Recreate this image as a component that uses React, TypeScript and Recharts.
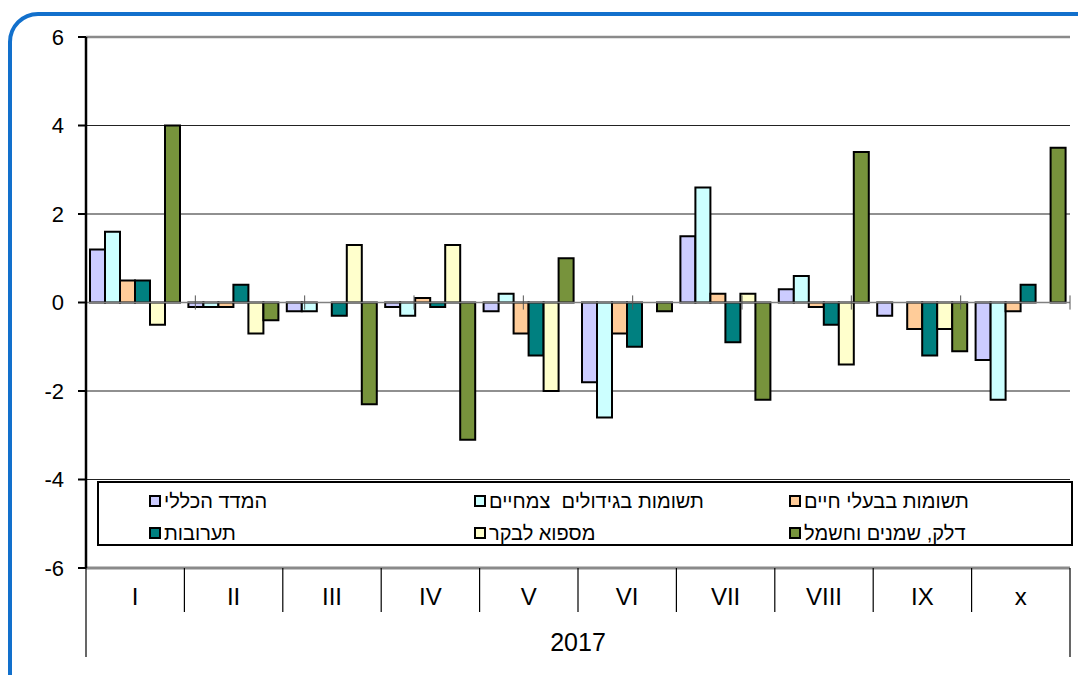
import React from 'react';
import { BarChart, Bar, XAxis, YAxis, CartesianGrid, ReferenceLine, Legend } from 'recharts';

const categories = ['I', 'II', 'III', 'IV', 'V', 'VI', 'VII', 'VIII', 'IX', 'x'];
const generalIndex = [1.2, -0.1, -0.2, -0.1, -0.2, -1.8, 1.5, 0.3, -0.3, -1.3];
const plantInputs = [1.6, -0.1, -0.2, -0.3, 0.2, -2.6, 2.6, 0.6, 0, -2.2];
const animalInputs = [0.5, -0.1, 0, 0.1, -0.7, -0.7, 0.2, -0.1, -0.6, -0.2];
const mixedFeed = [0.5, 0.4, -0.3, -0.1, -1.2, -1.0, -0.9, -0.5, -1.2, 0.4];
const cattleFodder = [-0.5, -0.7, 1.3, 1.3, -2.0, 0, 0.2, -1.4, -0.6, 0];
const fuelPower = [4.0, -0.4, -2.3, -3.1, 1.0, -0.2, -2.2, 3.4, -1.1, 3.5];
const yTicks = [-6, -4, -2, 0, 2, 4, 6];
const yearLabel = '2017';
const boundaries = [1, 2, 3, 4, 5, 6, 7, 8, 9];

const seriesDefs = [
  { key: 'general', name: 'המדד הכללי', color: '#CCCCFF', values: generalIndex },
  { key: 'plants', name: 'תשומות בגידולים  צמחיים', color: '#CCFFFF', values: plantInputs },
  { key: 'animals', name: 'תשומות בבעלי חיים', color: '#FFCC99', values: animalInputs },
  { key: 'feed', name: 'תערובות', color: '#008080', values: mixedFeed },
  { key: 'fodder', name: 'מספוא לבקר', color: '#FFFFCC', values: cattleFodder },
  { key: 'fuel', name: 'דלק, שמנים וחשמל', color: '#77933C', values: fuelPower },
];

const data = categories.map((c, i) => {
  const row: Record<string, string | number> = { cat: c };
  seriesDefs.forEach((s) => {
    row[s.key] = s.values[i];
  });
  return row;
});

const FONT = '"Liberation Sans", Arial, sans-serif';

const XTick = (props: any) => {
  const { x, y, payload } = props;
  const half = payload && typeof payload.offset === 'number' && payload.offset > 0 ? payload.offset : 49.2;
  const idx = categories.indexOf(payload?.value);
  const first = idx === 0;
  const last = idx === categories.length - 1;
  return (
    <g>
      <line x1={x - half} y1={y} x2={x - half} y2={y + (first ? 89 : 44)} stroke="#000" strokeWidth={1.2} />
      {last && <line x1={x + half} y1={y} x2={x + half} y2={y + 89} stroke="#000" strokeWidth={1.2} />}
      <text x={x} y={y + 37} textAnchor="middle" fontSize={24} fontFamily={FONT} fill="#000">
        {payload?.value}
      </text>
    </g>
  );
};

const LegendBox = () => {
  const cols = [50, 375, 690];
  const rows = [18, 50];
  return (
    <div
      style={{
        position: 'relative',
        width: 976,
        height: 65,
        border: '2.5px solid #000',
        boxSizing: 'border-box',
        background: '#fff',
        fontFamily: FONT,
      }}
    >
      {seriesDefs.map((s, i) => (
        <div
          key={s.key}
          style={{
            position: 'absolute',
            left: cols[i % 3],
            top: rows[Math.floor(i / 3)] - 12,
            height: 24,
            display: 'flex',
            alignItems: 'center',
            whiteSpace: 'pre',
          }}
        >
          <span
            style={{
              display: 'inline-block',
              width: 8,
              height: 8,
              border: '2px solid #000',
              background: s.color,
              marginRight: 3,
            }}
          />
          <span style={{ fontSize: 20, color: '#000', direction: 'rtl', unicodeBidi: 'embed' }}>{s.name}</span>
        </div>
      ))}
    </div>
  );
};

export default function App() {
  return (
    <div style={{ position: 'absolute', left: 0, top: 0, width: 1078, height: 675, overflow: 'hidden', background: '#fff' }}>
      <div
        style={{
          position: 'absolute',
          left: 8,
          top: 12,
          width: 1100,
          height: 700,
          border: '4px solid #1270CC',
          borderRadius: 30,
          boxSizing: 'border-box',
        }}
      />
      <div style={{ position: 'absolute', left: 0, top: 0 }}>
        <BarChart
          width={1078}
          height={675}
          data={data}
          margin={{ top: 37, right: 8, bottom: 7, left: 6 }}
          barSize={15}
          barGap={0}
        >
          <CartesianGrid horizontal vertical={false} stroke="#222" strokeWidth={1.2} />
          <XAxis
            dataKey="cat"
            height={100}
            tickLine={false}
            tickSize={0}
            tickMargin={0}
            interval={0}
            tick={<XTick />}
            axisLine={{ stroke: '#8a8a8a', strokeWidth: 3 }}
            label={{ value: yearLabel, position: 'insideBottom', offset: 17, fontSize: 25, fontFamily: FONT, fill: '#000' }}
          />
          <XAxis xAxisId="num" type="number" domain={[0, 10]} hide />
          <YAxis
            width={80}
            domain={[-6, 6]}
            ticks={yTicks}
            interval={0}
            tickSize={8}
            tickMargin={14}
            axisLine={{ stroke: '#000', strokeWidth: 2.5 }}
            tickLine={{ stroke: '#000', strokeWidth: 2 }}
            tick={{ fontSize: 22, fontFamily: FONT, fill: '#000' }}
          />
          <ReferenceLine y={6} stroke="#8a8a8a" strokeWidth={2.5} />
          <ReferenceLine y={0} stroke="#808080" strokeWidth={1.5} />
          {boundaries.map((b) => (
            <ReferenceLine
              key={b}
              xAxisId="num"
              segment={[
                { x: b, y: -0.16 },
                { x: b, y: 0.16 },
              ]}
              stroke="#555"
              strokeWidth={1}
            />
          ))}
          {seriesDefs.map((s) => (
            <Bar
              key={s.key}
              dataKey={s.key}
              name={s.name}
              fill={s.color}
              stroke="#000"
              strokeWidth={2}
              isAnimationActive={false}
            />
          ))}
          <Legend
            layout="vertical"
            verticalAlign="middle"
            align="center"
            content={() => <LegendBox />}
            wrapperStyle={{ position: 'absolute', left: 97, top: 481, width: 976, height: 65, margin: 0, padding: 0 }}
          />
        </BarChart>
      </div>
    </div>
  );
}
